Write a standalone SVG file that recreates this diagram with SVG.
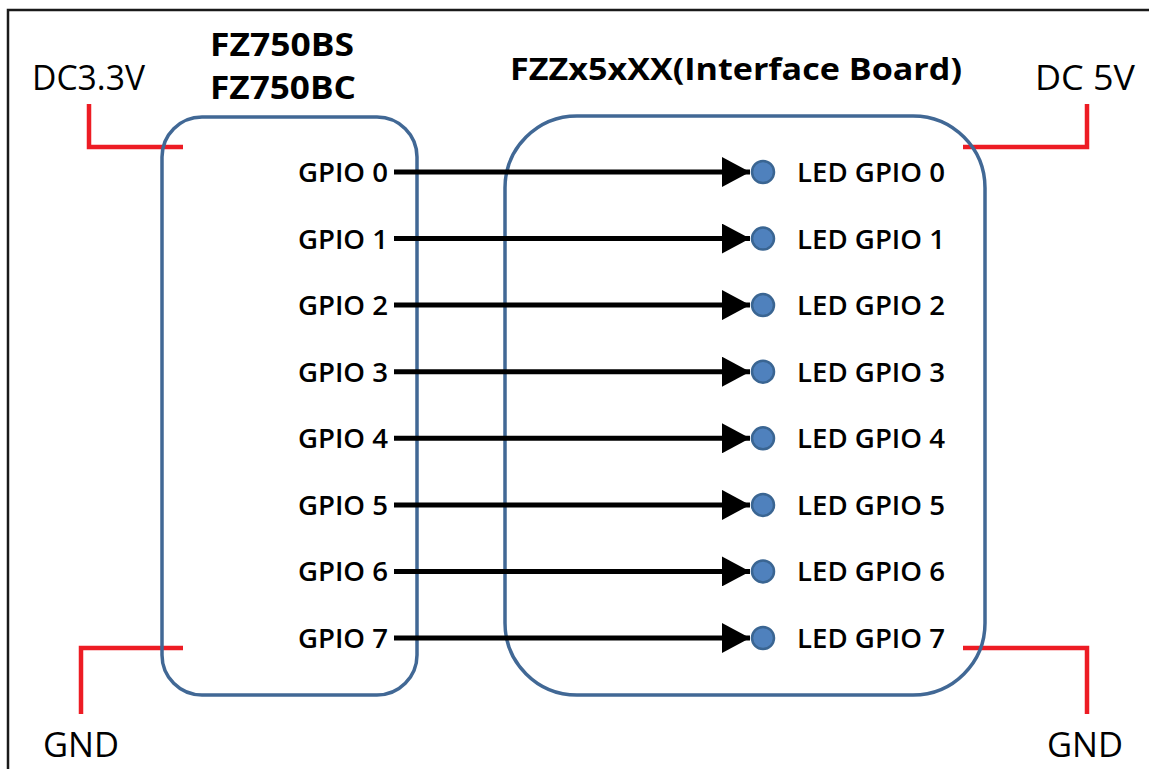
<svg xmlns="http://www.w3.org/2000/svg" width="1149" height="769" viewBox="0 0 1149 769">
<style>
.box{fill:none;stroke:#416895;stroke-width:3.5}
.pwr{fill:none;stroke:#ed1c24;stroke-width:4.5}
.wire{stroke:#000;stroke-width:5;marker-end:url(#ah)}
.led{fill:#4f81bd;stroke:#3a6592;stroke-width:2.5}
.t{font-family:"Open Sans","Noto Sans",sans-serif;fill:#000}
.reg{font-size:34px}
.b{font-weight:bold}
.lab{font-size:27px;font-weight:600}
</style>
<defs>
<marker id="ah" markerUnits="userSpaceOnUse" markerWidth="28" markerHeight="30" refX="28" refY="15" orient="auto">
<path d="M0,0 L28,15 L0,30 Z" fill="#000"/>
</marker>
</defs>
<path d="M8,769 V10 H1149" fill="none" stroke="#1a1a1a" stroke-width="2.5"/>
<g id="power">
<path class="pwr" d="M89,104 V147 H183"/>
<path class="pwr" d="M81,714 V648 H183"/>
<path class="pwr" d="M1087,104 V147 H963"/>
<path class="pwr" d="M1087,714 V648 H963"/>
<text class="t reg" x="32" y="90" textLength="113" lengthAdjust="spacingAndGlyphs">DC3.3V</text>
<text class="t reg" x="1035" y="90" textLength="100" lengthAdjust="spacingAndGlyphs">DC 5V</text>
<text class="t reg" x="43" y="757" textLength="76" lengthAdjust="spacingAndGlyphs">GND</text>
<text class="t reg" x="1047" y="757" textLength="76" lengthAdjust="spacingAndGlyphs">GND</text>
</g>
<g id="fz750">
<rect class="box" x="162" y="117" width="255" height="578" rx="40" ry="40"/>
<text class="t b" font-size="32" x="210" y="56" textLength="144" lengthAdjust="spacingAndGlyphs">FZ750BS</text>
<text class="t b" font-size="32" x="210" y="99" textLength="146" lengthAdjust="spacingAndGlyphs">FZ750BC</text>
<g class="t lab">
<text x="298" y="182" textLength="90" lengthAdjust="spacingAndGlyphs">GPIO 0</text>
<text x="298" y="249" textLength="90" lengthAdjust="spacingAndGlyphs">GPIO 1</text>
<text x="298" y="315" textLength="90" lengthAdjust="spacingAndGlyphs">GPIO 2</text>
<text x="298" y="382" textLength="90" lengthAdjust="spacingAndGlyphs">GPIO 3</text>
<text x="298" y="448" textLength="90" lengthAdjust="spacingAndGlyphs">GPIO 4</text>
<text x="298" y="515" textLength="90" lengthAdjust="spacingAndGlyphs">GPIO 5</text>
<text x="298" y="581" textLength="90" lengthAdjust="spacingAndGlyphs">GPIO 6</text>
<text x="298" y="648" textLength="90" lengthAdjust="spacingAndGlyphs">GPIO 7</text>
</g>
</g>
<g id="interface">
<rect class="box" x="505" y="116" width="480" height="579" rx="72" ry="72"/>
<text class="t b" font-size="31" x="510" y="80" textLength="452" lengthAdjust="spacingAndGlyphs">FZZx5xXX(Interface Board)</text>
<g class="led">
<circle cx="763" cy="172" r="11"/>
<circle cx="763" cy="238.6" r="11"/>
<circle cx="763" cy="305.1" r="11"/>
<circle cx="763" cy="371.7" r="11"/>
<circle cx="763" cy="438.3" r="11"/>
<circle cx="763" cy="504.9" r="11"/>
<circle cx="763" cy="571.4" r="11"/>
<circle cx="763" cy="638" r="11"/>
</g>
<g class="t lab">
<text x="797" y="182" textLength="148" lengthAdjust="spacingAndGlyphs">LED GPIO 0</text>
<text x="797" y="249" textLength="148" lengthAdjust="spacingAndGlyphs">LED GPIO 1</text>
<text x="797" y="315" textLength="148" lengthAdjust="spacingAndGlyphs">LED GPIO 2</text>
<text x="797" y="382" textLength="148" lengthAdjust="spacingAndGlyphs">LED GPIO 3</text>
<text x="797" y="448" textLength="148" lengthAdjust="spacingAndGlyphs">LED GPIO 4</text>
<text x="797" y="515" textLength="148" lengthAdjust="spacingAndGlyphs">LED GPIO 5</text>
<text x="797" y="581" textLength="148" lengthAdjust="spacingAndGlyphs">LED GPIO 6</text>
<text x="797" y="648" textLength="148" lengthAdjust="spacingAndGlyphs">LED GPIO 7</text>
</g>
</g>
<g id="connectors">
<line class="wire" x1="394" y1="172" x2="750" y2="172"/>
<line class="wire" x1="394" y1="238.6" x2="750" y2="238.6"/>
<line class="wire" x1="394" y1="305.1" x2="750" y2="305.1"/>
<line class="wire" x1="394" y1="371.7" x2="750" y2="371.7"/>
<line class="wire" x1="394" y1="438.3" x2="750" y2="438.3"/>
<line class="wire" x1="394" y1="504.9" x2="750" y2="504.9"/>
<line class="wire" x1="394" y1="571.4" x2="750" y2="571.4"/>
<line class="wire" x1="394" y1="638" x2="750" y2="638"/>
</g>
</svg>
